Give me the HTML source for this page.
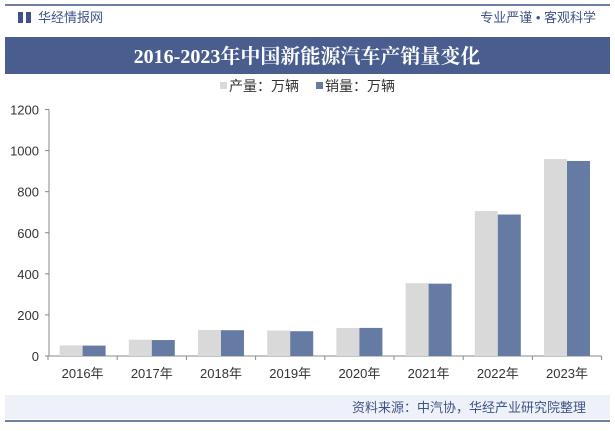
<!DOCTYPE html>
<html><head><meta charset="utf-8"><style>
body{margin:0;width:615px;height:426px;background:#fff;overflow:hidden;font-family:"Liberation Sans","Noto Sans CJK SC",sans-serif;}
</style></head><body>
<svg width="615" height="426" xmlns="http://www.w3.org/2000/svg">
<line x1="5" y1="5" x2="610" y2="5" stroke="#3f5387" stroke-width="1.5"/>
<g><rect x="18" y="12" width="5" height="11" fill="#3f5387"/><rect x="26" y="12" width="5" height="11" fill="#3f5387"/></g>
<text x="38" y="22" font-size="13" fill="#3f5387">华经情报网</text>
<text x="596" y="22" font-size="13" fill="#3f5387" text-anchor="end">专业严谨 • 客观科学</text>
<rect x="5" y="37" width="605" height="37" fill="#4a5d8f"/>
<text x="307" y="63" font-size="20" font-weight="bold" fill="#fff" text-anchor="middle" font-family="'Liberation Serif','Noto Serif CJK SC',serif">2016-2023年中国新能源汽车产销量变化</text>
<g>
<rect x="220" y="82" width="7" height="7" fill="#d9d9d9"/>
<text x="229" y="91" font-size="14" fill="#333">产量：万辆</text>
<rect x="316" y="82" width="7" height="7" fill="#667ba3"/>
<text x="325" y="91" font-size="14" fill="#333">销量：万辆</text>
</g>
<g id="plot"></g>
<rect x="5" y="395" width="605" height="24" fill="#eef1f8"/>
<text x="586" y="412" font-size="13" fill="#3f5387" text-anchor="end">资料来源：中汽协，华经产业研究院整理</text>
<line x1="5" y1="421" x2="610" y2="421" stroke="#3f5387" stroke-width="1.5"/>
</svg>
<script>
const categories=["2016年","2017年","2018年","2019年","2020年","2021年","2022年","2023年"];
const production=[51.7,79.4,127,124.2,136.6,354.5,705.8,958.7];
const sales=[50.7,77.7,125.6,120.6,136.7,352.1,688.7,949.5];
const yTicks=[0,200,400,600,800,1000,1200];
const NS="http://www.w3.org/2000/svg";
const g=document.getElementById('plot');
const x0=48,cw=69.2,y0=356,yMax=1200,yTop=109.5;
const y=v=>y0-(v/yMax)*(y0-yTop);
const xc=i=>x0+cw*(i+0.5);
function mk(t,a){const e=document.createElementNS(NS,t);for(const k in a)e.setAttribute(k,a[k]);g.appendChild(e);return e;}
let e=mk('line',{x1:49,y1:y(1200),x2:49,y2:y0,stroke:'#888'});


e=mk('line',{x1:x0,y1:y0,x2:x0+cw*8,y2:y0,stroke:'#888'});


yTicks.forEach(v=>{
 let t=mk('line',{x1:45,y1:y(v),x2:49,y2:y(v),stroke:'#888'});
 
 
 let l=mk('text',{x:39,y:y(v)+5,'font-size':13,fill:'#333','text-anchor':'end'});l.textContent=v;
 
 
});
for(let i=0;i<=categories.length;i++){
 let t=mk('line',{x1:x0+cw*i,y1:y0,x2:x0+cw*i,y2:y0+4,stroke:'#888'});
 
 
}
categories.forEach((c,i)=>{
 const bw=23;
 let b1=mk('rect',{x:xc(i)-bw,y:y(production[i]),width:bw,height:y0-y(production[i]),fill:'#d9d9d9'});
 
 
 let b2=mk('rect',{x:xc(i),y:y(sales[i]),width:bw,height:y0-y(sales[i]),fill:'#667ba3'});
 
 
 let l=mk('text',{x:xc(i),y:378,'font-size':13,fill:'#333','text-anchor':'middle'});l.textContent=c;
 
 
});
</script>
</body></html>
